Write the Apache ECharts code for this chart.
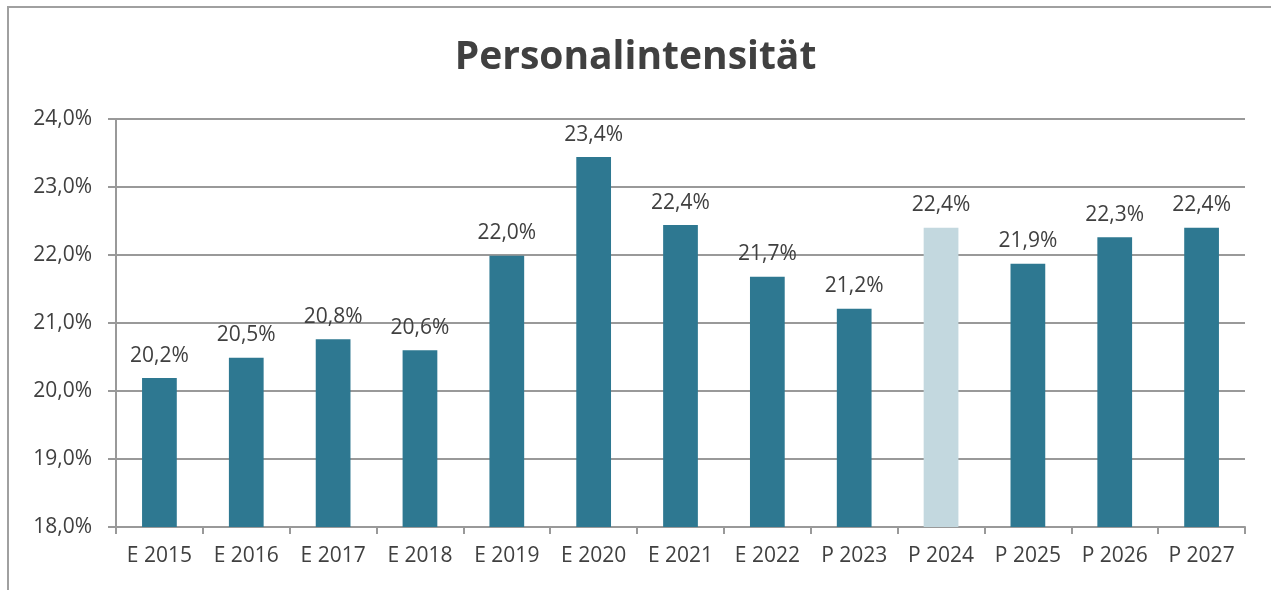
<!DOCTYPE html>
<html>
<head>
<meta charset="utf-8">
<script src="https://cdn.jsdelivr.net/npm/echarts@6/dist/echarts.min.js"></script>
<style>
  html, body { margin: 0; padding: 0; background: #fff; }
  #frame { position: absolute; left: 7px; top: 6px; width: 1280px; height: 600px;
    border-left: 2px solid #a0a0a0; border-top: 2px solid #a0a0a0; }
  #main { position: absolute; left: 0; top: 0; width: 1271px; height: 590px; }
</style>
</head>
<body>
<div id="frame"></div>
<div id="main"></div>
<script>
const categories = ['E 2015', 'E 2016', 'E 2017', 'E 2018', 'E 2019', 'E 2020', 'E 2021',
  'E 2022', 'P 2023', 'P 2024', 'P 2025', 'P 2026', 'P 2027']
const values = [20.19, 20.49, 20.76, 20.60, 21.99, 23.44, 22.44, 21.68, 21.21, 22.40, 21.87, 22.26, 22.40]
const highlightIndex = 9

const fmt = v => v.toFixed(1).replace('.', ',') + '%'

const chart = echarts.init(document.getElementById('main'))
chart.setOption({
  animation: false,
  textStyle: { fontFamily: 'Open Sans', color: '#404040' },
  title: {
    text: 'Personalintensität',
    left: 'center',
    top: 33,
    textStyle: { fontSize: 39, fontWeight: 'bold', color: '#404040', fontFamily: 'Open Sans' }
  },
  grid: { left: 116, right: 26, top: 119, bottom: 63 },
  xAxis: {
    type: 'category',
    data: categories,
    axisLine: { lineStyle: { color: '#999', width: 2 } },
    axisTick: { show: true, length: 7, lineStyle: { color: '#999', width: 2 } },
    axisLabel: { fontSize: 21, color: '#404040', margin: 19 }
  },
  yAxis: {
    type: 'value',
    min: 18,
    max: 24,
    interval: 1,
    axisLine: { show: true, lineStyle: { color: '#999', width: 2 } },
    axisTick: { show: true, length: 8, lineStyle: { color: '#999', width: 2 } },
    splitLine: { lineStyle: { color: '#999', width: 2 } },
    axisLabel: { fontSize: 21, color: '#404040', margin: 24, formatter: v => fmt(v) }
  },
  series: [{
    type: 'bar',
    barWidth: '40%',
    data: values.map((v, i) => ({
      value: v,
      itemStyle: { color: i === highlightIndex ? '#c3d8df' : '#2e7891' }
    })),
    label: {
      show: true,
      position: 'top',
      distance: 12,
      fontSize: 21,
      color: '#404040',
      formatter: p => fmt(p.value)
    }
  }]
})
</script>
</body>
</html>
